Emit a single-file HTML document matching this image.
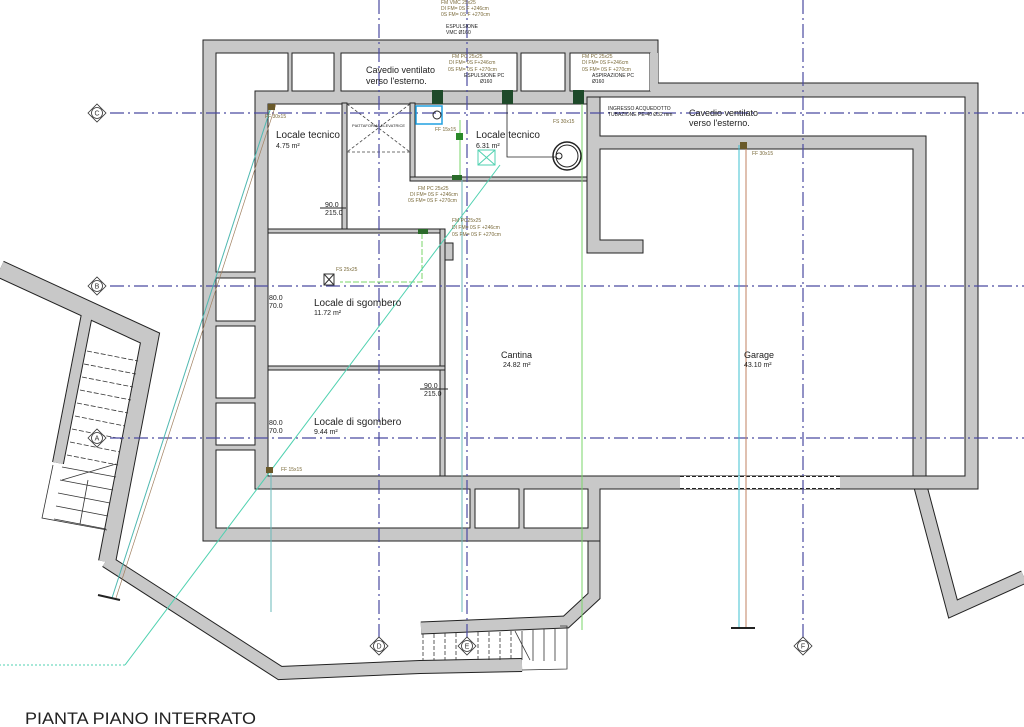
<!DOCTYPE html>
<html><head><meta charset="utf-8"><style>
html,body{margin:0;padding:0;background:#fff;}
svg{display:block;font-family:"Liberation Sans",sans-serif;}
.w{fill:#c8c8c8;stroke:#222;stroke-width:1}
.c{fill:#fff;stroke:#222;stroke-width:1}
.g{stroke:#4a4aa0;stroke-width:1.2;stroke-dasharray:14 4 2 4;fill:none}
.t{fill:#222}
.a{fill:#7a6a3a;font-size:5px}
</style></head><body>
<svg width="1024" height="727" viewBox="0 0 1024 727" xmlns="http://www.w3.org/2000/svg">
<g fill="none" stroke-linejoin="miter">
<polyline points="0,269 150,338 107,562" stroke="#222" stroke-width="18"/>
<polyline points="106,561 280,673 420,667 522,665" stroke="#222" stroke-width="14"/>
<polyline points="88,309 58,463" stroke="#222" stroke-width="12"/>
<polyline points="919.5,483 953,609 1024,577" stroke="#222" stroke-width="14"/>
<polyline points="594,483 594,596 566,622 421,628" stroke="#222" stroke-width="13"/>
<polyline points="0,269 150,338 107,562" stroke="#c8c8c8" stroke-width="16"/>
<polyline points="106,561 280,673 420,667 522,665" stroke="#c8c8c8" stroke-width="12"/>
<polyline points="88,309 58,463" stroke="#c8c8c8" stroke-width="10"/>
<polyline points="919.5,483 953,609 1024,577" stroke="#c8c8c8" stroke-width="12"/>
<polyline points="594,483 594,596 566,622 421,628" stroke="#c8c8c8" stroke-width="11"/>
</g>
<g stroke="#333" stroke-width="0.8" stroke-dasharray="5 2">
<line x1="87" y1="351" x2="138" y2="361"/><line x1="84" y1="364" x2="136" y2="374"/>
<line x1="82" y1="377" x2="133" y2="387"/><line x1="80" y1="390" x2="131" y2="400"/>
<line x1="77" y1="403" x2="128" y2="413"/><line x1="75" y1="416" x2="125" y2="426"/>
<line x1="72" y1="429" x2="122" y2="439"/><line x1="70" y1="442" x2="120" y2="452"/>
<line x1="67" y1="455" x2="118" y2="465"/>
</g>
<g stroke="#333" stroke-width="0.8" fill="none">
<line x1="62" y1="467" x2="116" y2="477"/><line x1="60" y1="480" x2="113" y2="490"/>
<line x1="58" y1="493" x2="110" y2="503"/><line x1="56" y1="506" x2="108" y2="516"/>
<line x1="54" y1="519" x2="106" y2="529"/><polyline points="53,465 42,518 107,530"/>
<line x1="62" y1="480" x2="116" y2="464"/><line x1="88" y1="480" x2="80" y2="524"/>
</g>
<g stroke="#333" stroke-width="0.8" stroke-dasharray="4 2">
<line x1="423" y1="634" x2="423" y2="660"/><line x1="434" y1="634" x2="434" y2="660"/>
<line x1="445" y1="633" x2="445" y2="660"/><line x1="456" y1="633" x2="456" y2="660"/>
<line x1="478" y1="632" x2="478" y2="660"/><line x1="489" y1="632" x2="489" y2="660"/>
<line x1="500" y1="632" x2="500" y2="660"/><line x1="511" y1="631" x2="511" y2="660"/>
</g>
<g stroke="#333" stroke-width="0.8" fill="none">
<line x1="522" y1="631" x2="522" y2="660"/><line x1="533" y1="630" x2="533" y2="661"/>
<line x1="544" y1="629" x2="544" y2="661"/><line x1="555" y1="628" x2="555" y2="661"/>
<polyline points="560,626 567,626 567,669 522,670"/><line x1="515" y1="631" x2="530" y2="660"/>
</g>
<path class="w" d="M203,40 H658 V83 H978 V489 H913 V489 H600 V541 H203 Z"/>
<path class="c" d="M600,97 H965 V476 H926 V136 H600 Z"/>
<path class="c" d="M216,53 H288 V91 H255 V272 H216 Z"/>
<rect class="c" x="292" y="53" width="42" height="38"/>
<rect class="c" x="341" y="53" width="176" height="38"/>
<rect class="c" x="521" y="53" width="44" height="38"/>
<rect class="c" x="570" y="53" width="80" height="38"/>
<path class="w" d="M650,53 H658 V91 H650 Z" style="stroke:none"/>
<rect class="c" x="216" y="278" width="39" height="43"/>
<rect class="c" x="216" y="326" width="39" height="72"/>
<rect class="c" x="216" y="403" width="39" height="42"/>
<path class="c" d="M216,450 H255 V489 H470 V528 H216 Z"/>
<rect class="c" x="475" y="489" width="44" height="39"/>
<rect class="c" x="524" y="489" width="64" height="39"/>
<path class="c" d="M268,104 H587 V253 H600 V149 H913 V476 H268 Z"/>
<path class="w" d="M587,97 H600 V136 H926 V476 H913 V149 H600 V240 H643 V253 H587 Z"/>
<rect x="680" y="476" width="160" height="13" fill="#fff" stroke="none"/>
<g stroke="#222" stroke-dasharray="4 2"><line x1="680" y1="476.5" x2="840" y2="476.5"/><line x1="680" y1="488.5" x2="840" y2="488.5"/></g>
<rect class="w" x="342" y="103" width="5" height="126"/>
<rect class="w" x="410" y="103" width="5" height="77"/>
<rect class="w" x="410" y="177" width="177" height="4"/>
<rect class="w" x="268" y="229" width="177" height="4"/>
<rect class="w" x="440" y="229" width="5" height="247"/>
<rect class="w" x="445" y="243" width="8" height="17"/>
<rect class="w" x="268" y="366" width="177" height="4"/>
<g stroke="#444" stroke-width="0.8" fill="none" stroke-dasharray="3 2">
<line x1="347" y1="152" x2="410" y2="152"/><line x1="347" y1="104" x2="410" y2="152"/><line x1="410" y1="104" x2="347" y2="152"/></g>
<text x="352" y="127" font-size="4" class="t">PIATTAFORMA ELEVATRICE</text>
<line class="g" x1="110" y1="113" x2="1024" y2="113"/>
<line class="g" x1="110" y1="286" x2="1024" y2="286"/>
<line class="g" x1="110" y1="438" x2="1024" y2="438"/>
<line class="g" x1="379" y1="0" x2="379" y2="638"/>
<line class="g" x1="467" y1="0" x2="467" y2="638"/>
<line class="g" x1="803" y1="0" x2="803" y2="638"/>
<g fill="#fff" stroke="#333" stroke-width="0.8" font-size="7" text-anchor="middle">
<g transform="translate(97,113)"><path d="M-9,0 L0,-9 L9,0 L0,9Z"/><circle r="5.5"/><text y="2.5" fill="#333" stroke="none">C</text></g>
<g transform="translate(97,286)"><path d="M-9,0 L0,-9 L9,0 L0,9Z"/><circle r="5.5"/><text y="2.5" fill="#333" stroke="none">B</text></g>
<g transform="translate(97,438)"><path d="M-9,0 L0,-9 L9,0 L0,9Z"/><circle r="5.5"/><text y="2.5" fill="#333" stroke="none">A</text></g>
<g transform="translate(379,646)"><path d="M-9,0 L0,-9 L9,0 L0,9Z"/><circle r="5.5"/><text y="2.5" fill="#333" stroke="none">D</text></g>
<g transform="translate(467,646)"><path d="M-9,0 L0,-9 L9,0 L0,9Z"/><circle r="5.5"/><text y="2.5" fill="#333" stroke="none">E</text></g>
<g transform="translate(803,646)"><path d="M-9,0 L0,-9 L9,0 L0,9Z"/><circle r="5.5"/><text y="2.5" fill="#333" stroke="none">F</text></g>
</g>
<g fill="none" stroke-width="1">
<line x1="582" y1="100" x2="582" y2="630" stroke="#7ad66a"/>
<line x1="460" y1="120" x2="460" y2="178" stroke="#7ad66a"/>
<polyline points="422,233 422,282 340,282" stroke="#7ad66a" stroke-dasharray="6 2"/>
<line x1="500" y1="165" x2="125" y2="665" stroke="#4fd1b0"/>
<line x1="125" y1="665" x2="0" y2="665" stroke="#4fd1b0" stroke-dasharray="2 2"/>
<line x1="272" y1="104" x2="112" y2="598" stroke="#4fb8b0"/>
<line x1="276" y1="104" x2="116" y2="598" stroke="#a08060" stroke-width="0.7"/>
<line x1="271" y1="468" x2="271" y2="612" stroke="#6ab8b8"/>
<line x1="462" y1="180" x2="462" y2="612" stroke="#6ab8b8"/>
<line x1="739" y1="145" x2="739" y2="628" stroke="#3fc0d0"/>
<line x1="746" y1="145" x2="746" y2="628" stroke="#c08060"/>
<line x1="731" y1="628" x2="755" y2="628" stroke="#222" stroke-width="2"/>
<line x1="98" y1="595" x2="120" y2="600" stroke="#222" stroke-width="2"/>
</g>
<g>
<rect x="432" y="90" width="11" height="14" fill="#1e4a2a"/>
<rect x="502" y="90" width="11" height="14" fill="#1e4a2a"/>
<rect x="573" y="90" width="11" height="14" fill="#1e4a2a"/>
<rect x="416" y="106" width="26" height="18" fill="none" stroke="#20a0e0" stroke-width="1.5"/>
<circle cx="437" cy="115" r="4" fill="none" stroke="#222"/>
<rect x="456" y="133" width="7" height="7" fill="#2a8a2a"/>
<rect x="478" y="150" width="17" height="15" fill="none" stroke="#4fd1b0"/>
<line x1="478" y1="150" x2="495" y2="165" stroke="#4fd1b0"/><line x1="495" y1="150" x2="478" y2="165" stroke="#4fd1b0"/>
<circle cx="567" cy="156" r="14" fill="#fff" stroke="#222" stroke-width="1.5"/>
<circle cx="567" cy="156" r="11" fill="none" stroke="#222"/>
<circle cx="559" cy="156" r="3" fill="none" stroke="#222"/>
<polyline points="507,104 507,157 556,157" fill="none" stroke="#222" stroke-width="0.8"/>
<rect x="324" y="274" width="10" height="11" fill="none" stroke="#333"/>
<line x1="324" y1="274" x2="334" y2="285" stroke="#333"/><line x1="334" y1="274" x2="324" y2="285" stroke="#333"/>
<rect x="740" y="142" width="7" height="7" fill="#6a5a2a"/>
<rect x="268" y="104" width="7" height="6" fill="#6a5a2a"/>
<rect x="266" y="467" width="7" height="6" fill="#6a5a2a"/>
<rect x="452" y="175" width="10" height="5" fill="#2a6a2a"/>
<rect x="418" y="229" width="10" height="5" fill="#2a6a2a"/>
</g>
<g class="t">
<text x="276" y="138" font-size="10">Locale tecnico</text>
<text x="276" y="148" font-size="7">4.75 m²</text>
<text x="476" y="138" font-size="10">Locale tecnico</text>
<text x="476" y="148" font-size="7">6.31 m²</text>
<text x="366" y="73" font-size="9">Cavedio ventilato</text>
<text x="366" y="84" font-size="9">verso l'esterno.</text>
<text x="689" y="116" font-size="9">Cavedio ventilato</text>
<text x="689" y="126" font-size="9">verso l'esterno.</text>
<text x="314" y="306" font-size="10">Locale di sgombero</text>
<text x="314" y="315" font-size="7">11.72 m²</text>
<text x="314" y="425" font-size="10">Locale di sgombero</text>
<text x="314" y="434" font-size="7">9.44 m²</text>
<text x="501" y="358" font-size="9">Cantina</text>
<text x="503" y="367" font-size="7">24.82 m²</text>
<text x="744" y="358" font-size="9">Garage</text>
<text x="744" y="367" font-size="7">43.10 m²</text>
<text x="25" y="724" font-size="17" textLength="231" lengthAdjust="spacingAndGlyphs">PIANTA PIANO INTERRATO</text>
<g font-size="7">
<text x="325" y="207">90.0</text><text x="325" y="215">215.0</text>
<text x="269" y="300">80.0</text><text x="269" y="308">70.0</text>
<text x="269" y="425">80.0</text><text x="269" y="433">70.0</text>
<text x="424" y="388">90.0</text><text x="424" y="396">215.0</text>
</g>
<line x1="320" y1="208" x2="346" y2="208" stroke="#222"/>
<line x1="420" y1="389" x2="448" y2="389" stroke="#222"/>
</g>
<g class="a">
<text x="441" y="4">FM VMC 25x25</text><text x="441" y="10">DI FM= 0S F +246cm</text><text x="441" y="16">0S FM= 0S F +270cm</text>
<text x="446" y="28" fill="#222">ESPULSIONE</text><text x="446" y="34" fill="#222">VMC Ø160</text>
<text x="452" y="58">FM PC 25x25</text><text x="449" y="64">DI FM= 0S F+246cm</text><text x="448" y="71">0S FM= 0S F +270cm</text>
<text x="464" y="77" fill="#222">ESPULSIONE PC</text><text x="480" y="83" fill="#222">Ø160</text>
<text x="582" y="58">FM PC 25x25</text><text x="582" y="64">DI FM= 0S F+246cm</text><text x="582" y="71">0S FM= 0S F +270cm</text>
<text x="592" y="77" fill="#222">ASPIRAZIONE PC</text><text x="592" y="83" fill="#222">Ø160</text>
<text x="608" y="110" fill="#222">INGRESSO ACQUEDOTTO</text><text x="608" y="116" fill="#222">TUBAZIONE PE-40 Ø32 mm</text>
<text x="265" y="118">FF 30x15</text><text x="752" y="155">FF 30x15</text>
<text x="281" y="471">FF 15x15</text><text x="336" y="271">FS 25x25</text>
<text x="435" y="131">FF 15x15</text><text x="553" y="123">FS 30x15</text>
<text x="418" y="190">FM PC 25x25</text><text x="410" y="196">DI FM= 0S F +246cm</text><text x="408" y="202">0S FM= 0S F +270cm</text>
<text x="452" y="222">FM PC25x25</text><text x="452" y="229">DI FM= 0S F +246cm</text><text x="452" y="236">0S FM= 0S F +270cm</text>
</g>
</svg>
</body></html>
